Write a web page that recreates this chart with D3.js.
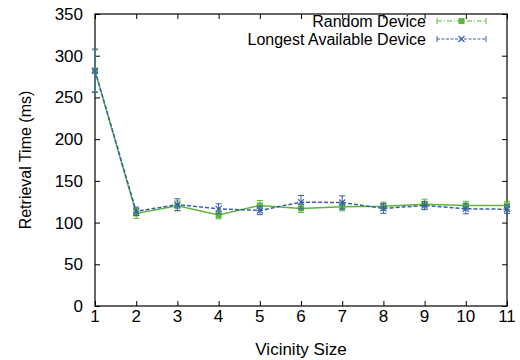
<!DOCTYPE html>
<html>
<head>
<meta charset="utf-8">
<script src="https://cdn.jsdelivr.net/npm/d3@7"></script>
<style>
  body { margin: 0; background: #fff; }
  svg { display: block; font-family: "Liberation Sans", Arial, sans-serif; }
</style>
</head>
<body>
<div id="scene"></div>
<script>
var ctx = {
  w: 520,
  h: 360,
  left: 95,
  right: 507,
  top: 14,
  bottom: 306,
  font: 17
};

// data
var vicinity = [1, 2, 3, 4, 5, 6, 7, 8, 9, 10, 11];
var randomMean = [282, 111, 120, 109, 120.5, 117, 119, 119.5, 122, 120.5, 120.5];
var randomErr = [25, 6, 6, 4.5, 6, 5, 5, 5, 6, 5, 5];
var longestMean = [282, 113.5, 121.5, 116.5, 114.5, 124.5, 124, 117, 120.5, 116.5, 116];
var longestErr = [26, 5, 7, 6, 5, 8, 8, 6, 5, 6, 5];
var yTicks = [0, 50, 100, 150, 200, 250, 300, 350];
var seriesNames = ["Random Device", "Longest Available Device"];

var green = "#5cb83c";
var blue = "#3a5cb0";

var svg = d3.select("#scene").append("svg")
  .attr("width", ctx.w)
  .attr("height", ctx.h);

var x = d3.scaleLinear().domain([1, 11]).range([ctx.left, ctx.right]);
var y = d3.scaleLinear().domain([0, 350]).range([ctx.bottom, ctx.top]);

var tick = 5;

// mirrored inward ticks
svg.append("g")
  .attr("transform", "translate(0," + ctx.bottom + ")")
  .call(d3.axisTop(x).tickValues(vicinity).tickSize(tick).tickFormat(""))
  .call(g => g.select(".domain").remove());
svg.append("g")
  .attr("transform", "translate(0," + ctx.top + ")")
  .call(d3.axisBottom(x).tickValues(vicinity).tickSize(tick).tickFormat(""))
  .call(g => g.select(".domain").remove());
svg.append("g")
  .attr("transform", "translate(" + ctx.left + ",0)")
  .call(d3.axisRight(y).tickValues(yTicks).tickSize(tick).tickFormat(""))
  .call(g => g.select(".domain").remove());
svg.append("g")
  .attr("transform", "translate(" + ctx.right + ",0)")
  .call(d3.axisLeft(y).tickValues(yTicks).tickSize(tick).tickFormat(""))
  .call(g => g.select(".domain").remove());

svg.selectAll(".tick line").attr("stroke", "#000");

svg.append("rect")
  .attr("x", ctx.left)
  .attr("y", ctx.top)
  .attr("width", ctx.right - ctx.left)
  .attr("height", ctx.bottom - ctx.top)
  .attr("fill", "none")
  .attr("stroke", "#000")
  .attr("stroke-width", 1.2);

// tick labels
svg.append("g").selectAll("text")
  .data(vicinity)
  .enter().append("text")
  .attr("x", d => x(d))
  .attr("y", ctx.bottom + 16)
  .attr("text-anchor", "middle")
  .attr("font-size", ctx.font)
  .text(d => d);

svg.append("g").selectAll("text")
  .data(yTicks)
  .enter().append("text")
  .attr("x", ctx.left - 12)
  .attr("y", d => y(d) + 6)
  .attr("text-anchor", "end")
  .attr("font-size", ctx.font)
  .text(d => d);

svg.append("text")
  .attr("x", (ctx.left + ctx.right) / 2)
  .attr("y", 355)
  .attr("text-anchor", "middle")
  .attr("font-size", ctx.font)
  .text("Vicinity Size");

svg.append("text")
  .attr("transform", "translate(31," + ((ctx.top + ctx.bottom) / 2) + ") rotate(-90)")
  .attr("text-anchor", "middle")
  .attr("font-size", 16)
  .text("Retrieval Time (ms)");

var drawSeries = function(means, errs, color, dash, marker) {
  var pts = vicinity.map((v, i) => ({x: v, y: means[i], e: errs[i]}));
  var g = svg.append("g");

  var bars = g.selectAll(".err").data(pts).enter().append("g");
  bars.append("line")
    .attr("x1", d => x(d.x)).attr("x2", d => x(d.x))
    .attr("y1", d => y(d.y - d.e)).attr("y2", d => y(d.y + d.e))
    .attr("stroke", color).attr("stroke-width", 1);
  [-1, 1].forEach(function(s) {
    bars.append("line")
      .attr("x1", d => x(d.x) - 3).attr("x2", d => x(d.x) + 3)
      .attr("y1", d => y(d.y + s * d.e)).attr("y2", d => y(d.y + s * d.e))
      .attr("stroke", color).attr("stroke-width", 1);
  });

  var line = d3.line().x(d => x(d.x)).y(d => y(d.y));
  g.append("path")
    .datum(pts)
    .attr("d", line)
    .attr("fill", "none")
    .attr("stroke", color)
    .attr("stroke-width", 1.5)
    .attr("stroke-dasharray", dash);

  drawMarker(g, pts.map(d => [x(d.x), y(d.y)]), color, marker);
};

var drawMarker = function(g, coords, color, marker) {
  if (marker === "square") {
    g.selectAll(".mk").data(coords).enter().append("rect")
      .attr("x", d => d[0] - 3).attr("y", d => d[1] - 3)
      .attr("width", 6).attr("height", 6)
      .attr("fill", color);
  } else {
    g.selectAll(".mk").data(coords).enter().append("path")
      .attr("d", d => "M" + (d[0] - 3) + "," + (d[1] - 3) + "L" + (d[0] + 3) + "," + (d[1] + 3) +
        "M" + (d[0] - 3) + "," + (d[1] + 3) + "L" + (d[0] + 3) + "," + (d[1] - 3))
      .attr("stroke", color).attr("stroke-width", 1.2).attr("fill", "none");
  }
};

drawSeries(randomMean, randomErr, green, null, "square");
drawSeries(longestMean, longestErr, blue, "4,2", "cross");

// legend
var legend = [
  {name: seriesNames[0], color: green, dash: "5,2,1,2", marker: "square", y: 21},
  {name: seriesNames[1], color: blue, dash: "3,1.5", marker: "cross", y: 39}
];
legend.forEach(function(l) {
  var g = svg.append("g");
  g.append("text")
    .attr("x", 426).attr("y", l.y + 5.5)
    .attr("text-anchor", "end")
    .attr("font-size", 16)
    .text(l.name);
  g.append("line")
    .attr("x1", 437).attr("x2", 486)
    .attr("y1", l.y).attr("y2", l.y)
    .attr("stroke", l.color).attr("stroke-width", 1)
    .attr("stroke-dasharray", l.dash);
  [437, 486].forEach(function(px) {
    g.append("line")
      .attr("x1", px).attr("x2", px)
      .attr("y1", l.y - 3).attr("y2", l.y + 3)
      .attr("stroke", l.color).attr("stroke-width", 1);
  });
  drawMarker(g, [[461.5, l.y]], l.color, l.marker);
});
</script>
</body>
</html>
